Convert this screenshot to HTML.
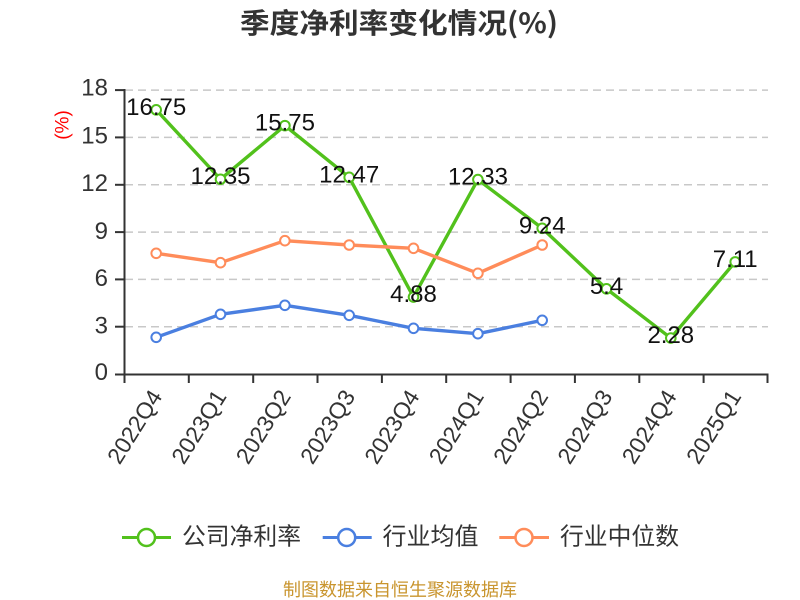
<!DOCTYPE html>
<html><head><meta charset="utf-8"><style>
html,body{margin:0;padding:0;background:#fff;}
svg{display:block;}
text{font-family:"Liberation Sans","Noto Sans CJK SC",sans-serif;}
.cjk{font-family:"Noto Sans CJK SC","WenQuanYi Zen Hei",sans-serif;}
</style></head><body>
<svg width="800" height="600" viewBox="0 0 800 600" xmlns="http://www.w3.org/2000/svg">
<rect width="800" height="600" fill="#fff"/>
<!-- title -->
<text x="240" y="22" class="cjk" font-size="28" font-weight="bold" fill="#333" dominant-baseline="central" textLength="318" lengthAdjust="spacingAndGlyphs">季度净利率变化情况(%)</text>
<!-- y axis name -->
<text transform="translate(63,125) rotate(-90)" font-size="19" fill="#ff0000" text-anchor="middle" dominant-baseline="central">(%)</text>
<!-- grid lines -->
<g stroke="#c8c8c8" stroke-width="1.5" stroke-dasharray="8,5">
<line x1="125" y1="90.1" x2="768" y2="90.1"/>
<line x1="125" y1="137.4" x2="768" y2="137.4"/>
<line x1="125" y1="184.8" x2="768" y2="184.8"/>
<line x1="125" y1="232.1" x2="768" y2="232.1"/>
<line x1="125" y1="279.4" x2="768" y2="279.4"/>
<line x1="125" y1="326.7" x2="768" y2="326.7"/>
</g>
<!-- axes -->
<g stroke="#333" stroke-width="2">
<line x1="124.5" y1="89" x2="124.5" y2="375"/>
<line x1="124" y1="374.5" x2="768.5" y2="374.5"/>
<line x1="115" y1="90.1" x2="125" y2="90.1"/>
<line x1="115" y1="137.4" x2="125" y2="137.4"/>
<line x1="115" y1="184.8" x2="125" y2="184.8"/>
<line x1="115" y1="232.1" x2="125" y2="232.1"/>
<line x1="115" y1="279.4" x2="125" y2="279.4"/>
<line x1="115" y1="326.7" x2="125" y2="326.7"/>
<line x1="115" y1="374.5" x2="125" y2="374.5"/>
<line x1="124.5" y1="374" x2="124.5" y2="383"/>
<line x1="188.8" y1="374" x2="188.8" y2="383"/>
<line x1="253.2" y1="374" x2="253.2" y2="383"/>
<line x1="317.5" y1="374" x2="317.5" y2="383"/>
<line x1="381.9" y1="374" x2="381.9" y2="383"/>
<line x1="446.2" y1="374" x2="446.2" y2="383"/>
<line x1="510.6" y1="374" x2="510.6" y2="383"/>
<line x1="574.9" y1="374" x2="574.9" y2="383"/>
<line x1="639.3" y1="374" x2="639.3" y2="383"/>
<line x1="703.6" y1="374" x2="703.6" y2="383"/>
<line x1="767.5" y1="374" x2="767.5" y2="383"/>
</g>
<!-- y tick labels -->
<g font-size="24" fill="#333" text-anchor="end" dominant-baseline="central">
<text x="108" y="88">18</text>
<text x="108" y="136">15</text>
<text x="108" y="183.5">12</text>
<text x="108" y="231.5">9</text>
<text x="108" y="278.5">6</text>
<text x="108" y="326">3</text>
<text x="108" y="372.5">0</text>
</g>
<!-- x tick labels -->
<g font-size="23" fill="#333" text-anchor="end" dominant-baseline="central">
<text transform="translate(156.2,392) rotate(-58)">2022Q4</text>
<text transform="translate(220.5,392) rotate(-58)">2023Q1</text>
<text transform="translate(284.9,392) rotate(-58)">2023Q2</text>
<text transform="translate(349.2,392) rotate(-58)">2023Q3</text>
<text transform="translate(413.5,392) rotate(-58)">2023Q4</text>
<text transform="translate(477.9,392) rotate(-58)">2024Q1</text>
<text transform="translate(542.2,392) rotate(-58)">2024Q2</text>
<text transform="translate(606.5,392) rotate(-58)">2024Q3</text>
<text transform="translate(670.8,392) rotate(-58)">2024Q4</text>
<text transform="translate(735.2,392) rotate(-58)">2025Q1</text>
</g>
<!-- green series -->
<polyline fill="none" stroke="#52c11c" stroke-width="3.4" stroke-linejoin="round" points="156.2,109.85 220.5,179.24 284.9,125.62 349.2,177.35 413.5,297.04 477.9,179.56 542.2,228.29 606.5,288.84 670.8,338.04 735.2,261.88"/>
<g fill="#fff" stroke="#52c11c" stroke-width="2">
<circle cx="156.2" cy="109.85" r="4.8"/><circle cx="220.5" cy="179.24" r="4.8"/><circle cx="284.9" cy="125.62" r="4.8"/><circle cx="349.2" cy="177.35" r="4.8"/><circle cx="413.5" cy="297.04" r="4.8"/><circle cx="477.9" cy="179.56" r="4.8"/><circle cx="542.2" cy="228.29" r="4.8"/><circle cx="606.5" cy="288.84" r="4.8"/><circle cx="670.8" cy="338.04" r="4.8"/><circle cx="735.2" cy="261.88" r="4.8"/>
</g>
<!-- blue series -->
<polyline fill="none" stroke="#4a7fe0" stroke-width="3.4" stroke-linejoin="round" points="156.2,337.3 220.5,314.3 284.9,305.3 349.2,315.3 413.5,328.3 477.9,333.7 542.2,320.3"/>
<g fill="#fff" stroke="#4a7fe0" stroke-width="2">
<circle cx="156.2" cy="337.3" r="4.8"/><circle cx="220.5" cy="314.3" r="4.8"/><circle cx="284.9" cy="305.3" r="4.8"/><circle cx="349.2" cy="315.3" r="4.8"/><circle cx="413.5" cy="328.3" r="4.8"/><circle cx="477.9" cy="333.7" r="4.8"/><circle cx="542.2" cy="320.3" r="4.8"/>
</g>
<!-- orange series -->
<polyline fill="none" stroke="#ff8c5a" stroke-width="3.4" stroke-linejoin="round" points="156.2,253.3 220.5,262.7 284.9,240.7 349.2,245 413.5,248.3 477.9,273.3 542.2,245"/>
<g fill="#fff" stroke="#ff8c5a" stroke-width="2">
<circle cx="156.2" cy="253.3" r="4.8"/><circle cx="220.5" cy="262.7" r="4.8"/><circle cx="284.9" cy="240.7" r="4.8"/><circle cx="349.2" cy="245" r="4.8"/><circle cx="413.5" cy="248.3" r="4.8"/><circle cx="477.9" cy="273.3" r="4.8"/><circle cx="542.2" cy="245" r="4.8"/>
</g>
<!-- data labels -->
<g font-size="24" fill="#111" text-anchor="middle" dominant-baseline="central">
<text x="156.2" y="107.3">16.75</text>
<text x="220.5" y="176.7">12.35</text>
<text x="284.9" y="123.1">15.75</text>
<text x="349.2" y="174.8">12.47</text>
<text x="413.5" y="294.5">4.88</text>
<text x="477.9" y="177">12.33</text>
<text x="542.2" y="225.8">9.24</text>
<text x="606.5" y="286.3">5.4</text>
<text x="670.8" y="335.5">2.28</text>
<text x="735.2" y="259.4">7.11</text>
</g>
<!-- legend -->
<g stroke-width="3">
<line x1="122" y1="537.5" x2="171" y2="537.5" stroke="#52c11c"/>
<circle cx="146.5" cy="537.5" r="8.5" fill="#fff" stroke="#52c11c" stroke-width="2.5"/>
<line x1="322.7" y1="537.5" x2="371.7" y2="537.5" stroke="#4a7fe0"/>
<circle cx="346.7" cy="537.5" r="8.5" fill="#fff" stroke="#4a7fe0" stroke-width="2.5"/>
<line x1="499.3" y1="537.5" x2="549" y2="537.5" stroke="#ff8c5a"/>
<circle cx="524" cy="537.5" r="8.5" fill="#fff" stroke="#ff8c5a" stroke-width="2.5"/>
</g>
<g class="cjk" font-size="24" fill="#333" dominant-baseline="central">
<text x="182" y="537" textLength="119" lengthAdjust="spacingAndGlyphs">公司净利率</text>
<text x="382.5" y="537" textLength="96" lengthAdjust="spacingAndGlyphs">行业均值</text>
<text x="560" y="537" textLength="119" lengthAdjust="spacingAndGlyphs">行业中位数</text>
</g>
<!-- footer -->
<text x="400" y="589" class="cjk" font-size="18" fill="#c9952e" text-anchor="middle" dominant-baseline="central">制图数据来自恒生聚源数据库</text>
</svg>
</body></html>
